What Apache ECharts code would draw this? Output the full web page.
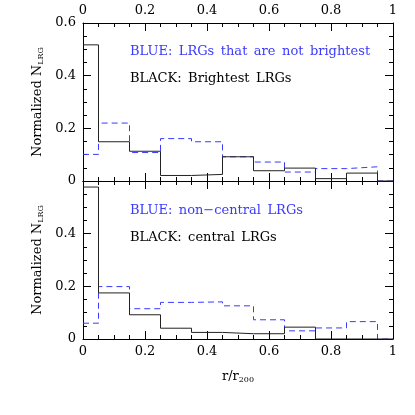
<!DOCTYPE html>
<html><head><meta charset="utf-8">
<script src="https://cdn.jsdelivr.net/npm/echarts@6/dist/echarts.min.js"></script>
<style>html,body{margin:0;padding:0;background:#fff}#c{width:415px;height:415px}</style>
</head><body><div id="c"></div>
<script>
const binEdges = [0, 0.05, 0.15, 0.25, 0.35, 0.45, 0.55, 0.65, 0.75, 0.85, 0.95, 1.0];
const topBlack = [0.517, 0.149, 0.113, 0.021, 0.025, 0.092, 0.039, 0.049, 0.009, 0.030, 0];
const topBlue = [0.101, 0.220, 0.108, 0.161, 0.149, 0.092, 0.072, 0.034, 0.047, 0.054, 0];
const botBlack = [0.577, 0.175, 0.092, 0.041, 0.025, 0.020, 0.020, 0.045, 0, 0, 0];
const botBlue = [0.060, 0.199, 0.115, 0.139, 0.141, 0.126, 0.073, 0.031, 0.042, 0.066, 0];
const xTicks = [0, 0.2, 0.4, 0.6, 0.8, 1];
const yTicks = [0, 0.2, 0.4, 0.6];

function steps(edges, vals) {
  const pts = [];
  for (let i = 0; i < vals.length; i++) {
    pts.push([edges[i], vals[i]]);
    pts.push([edges[i + 1], vals[i]]);
  }
  return pts;
}
const FONT = 'DejaVu Serif';
const BLUE = '#3a3aff';
const fmt = v => { const r = Math.round(v * 10) / 10; return String(r); };
const sp = s => s.replace(/ /g, '\u2002');

function xAx(grid, pos, labels, extra) {
  return Object.assign({
    type: 'value', gridIndex: grid, position: pos, min: 0, max: 1, interval: 0.2,
    axisLine: { show: true, onZero: false, lineStyle: { color: '#000', width: 1 } },
    axisTick: { show: true, inside: true, length: 8, lineStyle: { color: '#000' } },
    minorTick: { show: true, splitNumber: 4, length: 4, lineStyle: { color: '#000' } },
    splitLine: { show: false },
    axisLabel: { show: labels, color: '#000', fontFamily: FONT, fontSize: 13, margin: 6,
      formatter: v => fmt(v) }
  }, extra || {});
}
function yAx(grid, pos, labels, hideTop, extra) {
  return Object.assign({
    type: 'value', gridIndex: grid, position: pos, min: 0, max: 0.6, interval: 0.2,
    axisLine: { show: true, onZero: false, lineStyle: { color: '#000', width: 1 } },
    axisTick: { show: true, inside: true, length: 8, lineStyle: { color: '#000' } },
    minorTick: { show: true, splitNumber: 4, length: 4, lineStyle: { color: '#000' } },
    splitLine: { show: false },
    axisLabel: { show: labels, color: '#000', fontFamily: FONT, fontSize: 13, margin: 7,
      formatter: v => (hideTop && v > 0.59) ? '' : fmt(v) }
  }, extra || {});
}
const yName = {
  name: 'Normalized N{s|LRG}', nameLocation: 'middle', nameGap: 36, nameRotate: 90,
  nameTextStyle: { color: '#000', fontFamily: FONT, fontSize: 13,
    rich: { s: { fontFamily: FONT, fontSize: 8, verticalAlign: 'bottom', padding: [6, 0, 0, 0] } } }
};
const chart = echarts.init(document.getElementById('c'), null, { renderer: 'canvas' });
chart.setOption({
  animation: false,
  backgroundColor: '#fff',
  grid: [
    { left: 83, width: 310, top: 23, height: 158 },
    { left: 83, width: 310, top: 181, height: 158 }
  ],
  xAxis: [
    xAx(0, 'top', true),
    xAx(0, 'bottom', false),
    xAx(1, 'bottom', true, {
      name: 'r/r{s|200}', nameLocation: 'middle', nameGap: 31,
      nameTextStyle: { color: '#000', fontFamily: FONT, fontSize: 13,
        rich: { s: { fontFamily: FONT, fontSize: 8, verticalAlign: 'bottom', padding: [6, 0, 0, 0] } } }
    }),
    xAx(1, 'top', false)
  ],
  yAxis: [
    yAx(0, 'left', true, false, yName),
    yAx(0, 'right', false, false),
    yAx(1, 'left', true, true, yName),
    yAx(1, 'right', false, true)
  ],
  series: [
    { type: 'line', xAxisIndex: 0, yAxisIndex: 0, data: steps(binEdges, topBlue), symbol: 'none',
      lineStyle: { color: BLUE, width: 1, type: [6, 4] } },
    { type: 'line', xAxisIndex: 0, yAxisIndex: 0, data: steps(binEdges, topBlack), symbol: 'none',
      lineStyle: { color: '#222', width: 1 } },
    { type: 'line', xAxisIndex: 2, yAxisIndex: 2, data: steps(binEdges, botBlue), symbol: 'none',
      lineStyle: { color: BLUE, width: 1, type: [6, 4] } },
    { type: 'line', xAxisIndex: 2, yAxisIndex: 2, data: steps(binEdges, botBlack), symbol: 'none',
      lineStyle: { color: '#222', width: 1 } }
  ],
  graphic: [
    { type: 'text', left: 130, top: 45, style: { text: sp('BLUE: LRGs that are not brightest'), fill: BLUE, font: '13px "DejaVu Serif"' } },
    { type: 'text', left: 130, top: 72, style: { text: sp('BLACK: Brightest LRGs'), fill: '#000', font: '13px "DejaVu Serif"' } },
    { type: 'text', left: 130, top: 204, style: { text: sp('BLUE: non\u2212central LRGs'), fill: BLUE, font: '13px "DejaVu Serif"' } },
    { type: 'text', left: 130, top: 231, style: { text: sp('BLACK: central LRGs'), fill: '#000', font: '13px "DejaVu Serif"' } }
  ]
});
</script></body></html>
